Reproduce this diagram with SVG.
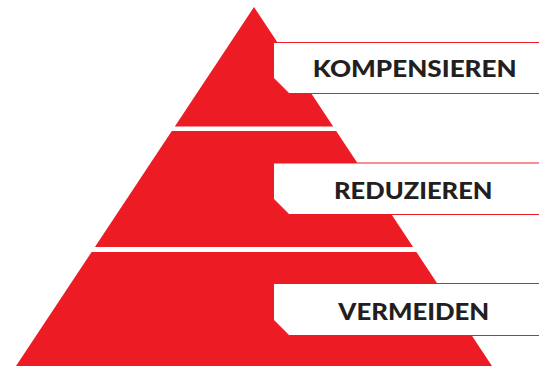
<svg xmlns="http://www.w3.org/2000/svg" width="539" height="366" viewBox="0 0 539 366">
<style>
.tier{fill:#ED1C24}
.box{fill:#FFFFFF;stroke:#ED1C24;stroke-width:1}
.lbl{font-family:"Lato","Liberation Sans",Arial,sans-serif;font-weight:900;font-size:23.5px;fill:#231F20;text-anchor:middle}
</style>
<rect width="539" height="366" fill="#FFFFFF"/>
<g id="tier-top">
<polygon class="tier" points="254,7 333.2,126.5 174.8,126.5"/>
</g>
<g id="tier-middle">
<polygon class="tier" points="171.8,131 336.2,131 413.1,247 94.9,247"/>
</g>
<g id="tier-bottom">
<polygon class="tier" points="91.6,252 416.4,252 492,366 16,366"/>
</g>
<g id="label-kompensieren">
<path class="box" d="M540,42.5 H273.5 V78 L289,93.5 H540"/>
<text class="lbl" x="414.7" y="77.3" textLength="204" lengthAdjust="spacingAndGlyphs">KOMPENSIEREN</text>
</g>
<g id="label-reduzieren">
<path class="box" d="M540,163 H273.5 V199 L289,214.5 H540"/>
<text class="lbl" x="413.3" y="199" textLength="158.5" lengthAdjust="spacingAndGlyphs">REDUZIEREN</text>
</g>
<g id="label-vermeiden">
<path class="box" d="M540,283.5 H273.5 V320 L289,335.5 H540"/>
<text class="lbl" x="413.8" y="320" textLength="151" lengthAdjust="spacingAndGlyphs">VERMEIDEN</text>
</g>
<g id="connectors"></g>
</svg>
